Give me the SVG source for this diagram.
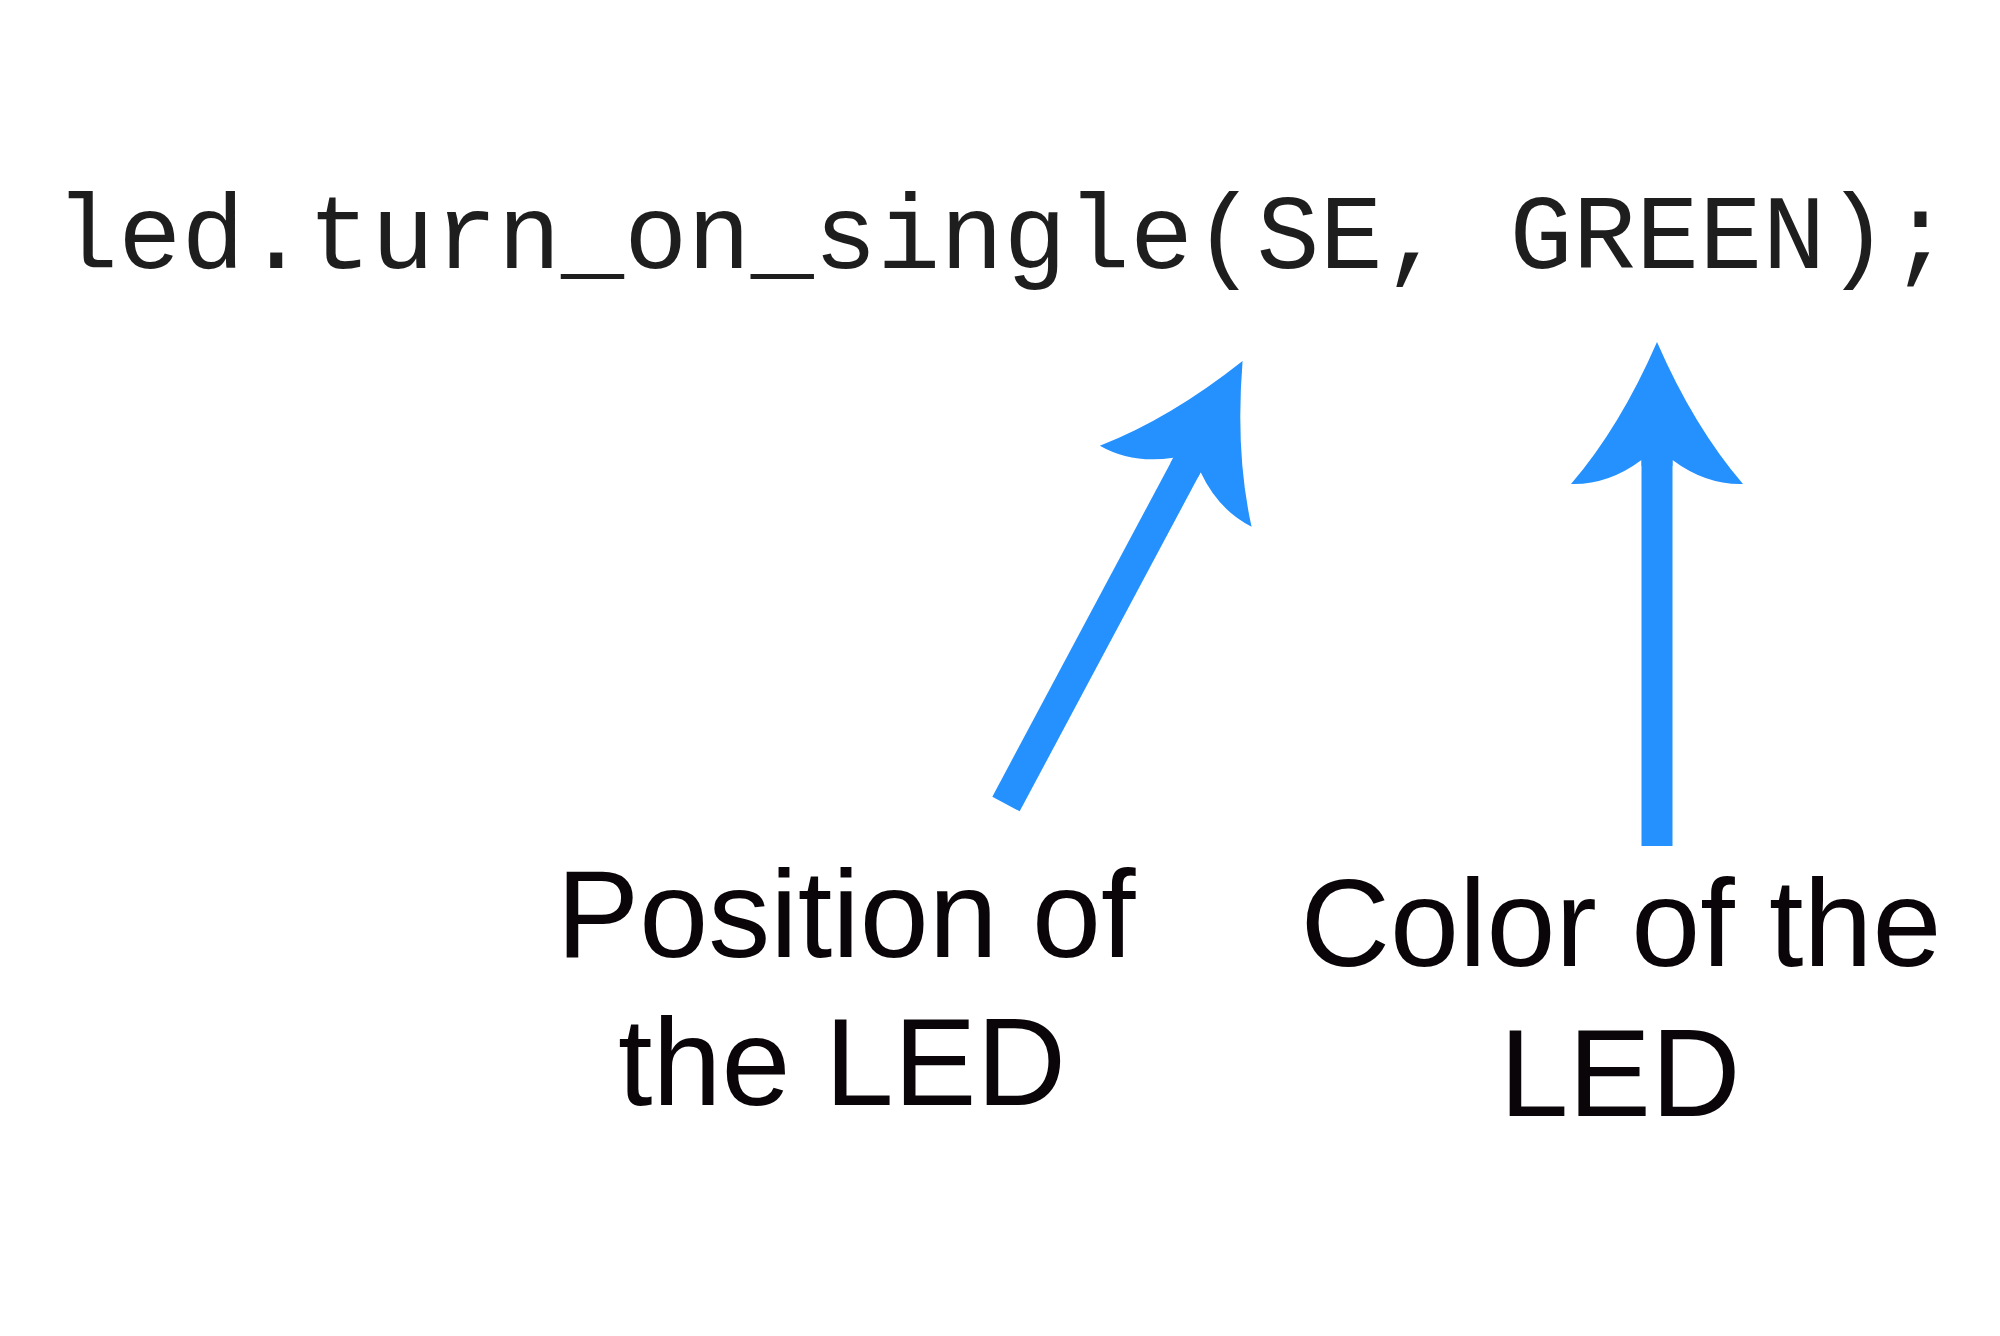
<svg xmlns="http://www.w3.org/2000/svg" width="2000" height="1336" viewBox="0 0 2000 1336">
<style>
.code{font-family:"Courier New","Liberation Mono",monospace;font-size:105px;fill:#1e1e1e}
.lbl{font-family:"Liberation Sans",Arial,sans-serif;font-size:124px;fill:#0a0508;text-anchor:middle}
.shaft{stroke:#2491ff;stroke-width:31;fill:none;stroke-linecap:butt}
</style>
<defs>
<marker id="head" markerUnits="userSpaceOnUse" orient="auto" refX="0" refY="0" markerWidth="300" markerHeight="300" viewBox="-150 -150 300 300" overflow="visible">
<path d="M118,0 Q33,-37 -24,-86 Q-25,-49 0,-15.5 L-6,-15.5 L-6,15.5 L0,15.5 Q-25,49 -24,86 Q33,37 118,0 Z" fill="#2491ff"/>
</marker>
</defs>
<rect width="2000" height="1336" fill="#fff"/>
<g id="code">
<text class="code" x="55" y="268" textLength="1897" lengthAdjust="spacing">led.turn_on_single(SE, GREEN);</text>
</g>
<g id="connectors">
<path class="shaft" d="M1006,804 L1187,465" marker-end="url(#head)"/>
<path class="shaft" d="M1657,846 L1657,460" marker-end="url(#head)"/>
</g>
<g id="label-position">
<text class="lbl" x="846" y="957">Position of</text>
<text class="lbl" x="842" y="1105">the LED</text>
</g>
<g id="label-color">
<text class="lbl" x="1621" y="966">Color of the</text>
<text class="lbl" x="1620" y="1116">LED</text>
</g>
</svg>
